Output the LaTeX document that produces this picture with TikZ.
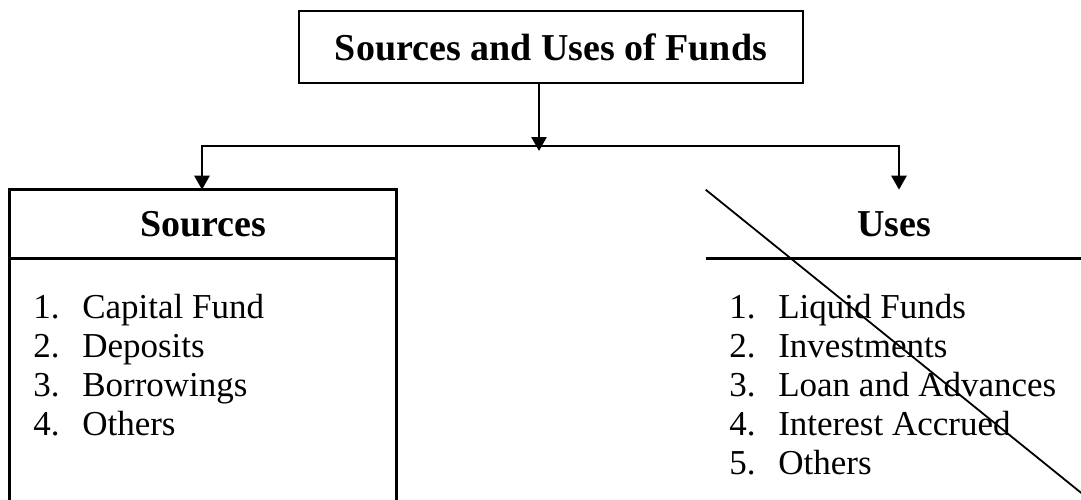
\documentclass[tikz,border=0pt]{standalone}
\usepackage{fontspec}
\setmainfont{Liberation Serif}
\usetikzlibrary{arrows.meta}

\begin{document}
\begin{tikzpicture}[x=0.5pt, y=-0.5pt, line width=1.3pt]
  \tikzstyle{hd} = [inner sep=0pt, font=\fontsize{19}{22}\selectfont\bfseries];
  \tikzstyle{it} = [inner sep=0pt, anchor=base west,
  font=\fontsize{17.5}{19.5}\selectfont];
  \tikzstyle{a} = [-{Triangle[width=7.5pt, length=7pt]}];
  \tikzstyle{aa} = [{Triangle[width=7.5pt, length=7pt]}-{Triangle[width=7.5pt, length=7pt]}];
  \tikzstyle{cut} = [line width=0.9pt];

  \clip (0,0) rectangle (1081,499);

  \node[hd, draw, minimum width=252pt, minimum height=36pt] (top) at (551,47) {Sources and Uses of Funds};

  \node[hd, minimum width=192pt, minimum height=33pt] (src) at (203,224) {Sources};
  \node[hd, minimum width=187pt, minimum height=33pt] (use) at (894,224) {Uses};

  \coordinate (mid) at (539,151);
  \coordinate (bl) at (202,146);
  \coordinate (br) at (899,146);
  \coordinate (floor) at (0,520);
  \coordinate (cutend) at (1090,500);

  \draw[a] (top.south -| mid) -- (mid);
  \draw[aa] (src.north -| bl) |- (br) -- (br |- use.north);

  \draw (src.south west |- floor) -- (src.north west) -- (src.north east)
    -- (src.south east |- floor);
  \draw (src.south west) -- (src.south east);
  \draw (use.south west) -- (use.south east);

  \foreach \t [count=\i] in {Capital Fund, Deposits, Borrowings, Others}
    \node[it] (s\i) at (32, 279+39*\i) {\makebox[24.5pt][l]{\i.}\t};
  \foreach \t [count=\i] in {Liquid Funds, Investments, Loan and Advances, Interest Accrued, Others}
    \node[it] (u\i) at (728, 279+39*\i) {\makebox[24.5pt][l]{\i.}\t};

  \draw[cut] (use.north west) -- (cutend);
\end{tikzpicture}
\end{document}
